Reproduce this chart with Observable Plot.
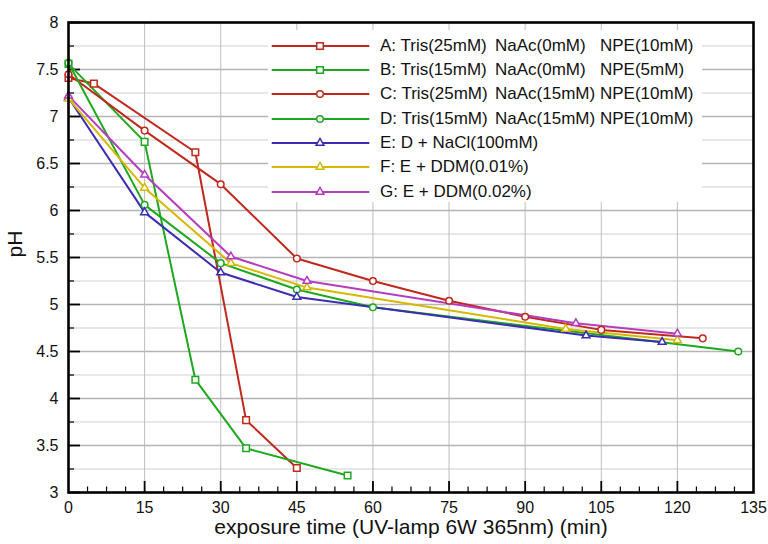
<!DOCTYPE html>
<html><head><meta charset="utf-8">
<script src="https://cdn.jsdelivr.net/npm/d3@7"></script>
<script src="https://cdn.jsdelivr.net/npm/@observablehq/plot@0.6"></script>
<style>
body{margin:0;background:#fff;font-family:"Liberation Sans",Arial,Helvetica,sans-serif}
#wrap{position:relative;width:768px;height:544px;overflow:hidden}
#legend{position:absolute;left:268px;top:30px;width:434px;height:172px;background:#fff}
.row{position:absolute;left:0;width:434px;height:24px;font-size:17px;line-height:24px;color:#111;white-space:nowrap}
.row svg{position:absolute;left:3px;top:6px}
.row span{position:absolute;top:0}
</style></head><body><div id="wrap"></div>
<script>
// ---- data ----
const seriesKeys = ["A","B","C","D","E","F","G"];
const seriesColors = ["#c0281c","#1ea81e","#c0281c","#1ea81e","#3a2db2","#d6b800","#b43cbe"];
const seriesSymbols = ["square","square","circle","circle","triangle","triangle","triangle"];
const labelCol1 = ["A: Tris(25mM)","B: Tris(15mM)","C: Tris(25mM)","D: Tris(15mM)","E: D + NaCl(100mM)","F: E + DDM(0.01%)","G: E + DDM(0.02%)"];
const labelCol2 = ["NaAc(0mM)","NaAc(0mM)","NaAc(15mM)","NaAc(15mM)","","",""];
const labelCol3 = ["NPE(10mM)","NPE(5mM)","NPE(10mM)","NPE(10mM)","","",""];

const timeA = [0,5,25,35,45];
const phA   = [7.41,7.35,6.62,3.77,3.26];
const timeB = [0,15,25,35,55];
const phB   = [7.56,6.73,4.20,3.47,3.18];
const timeC = [0,15,30,45,60,75,90,105,125];
const phC   = [7.45,6.85,6.28,5.49,5.25,5.04,4.87,4.73,4.64];
const timeD = [0,15,30,45,60,132];
const phD   = [7.57,6.06,5.44,5.16,4.97,4.50];
const timeE = [0,15,30,45,102,117];
const phE   = [7.20,5.98,5.34,5.08,4.67,4.60];
const timeF = [0,15,32,47,98,120];
const phF   = [7.19,6.24,5.44,5.18,4.74,4.62];
const timeG = [0,15,32,47,100,120];
const phG   = [7.22,6.38,5.51,5.25,4.80,4.69];

const xTickLabels = [0,15,30,45,60,75,90,105,120,135];
const xMinorTicks = d3.range(0, 135.01, 3.75);
const yTickLabels = [3,3.5,4,4.5,5,5.5,6,6.5,7,7.5,8];
const yMinorTicks = d3.range(3, 8.01, 0.25);
const xLabel = "exposure time (UV-lamp 6W 365nm) (min)";
const yLabel = "pH";

// ---- build ----
const times = [timeA,timeB,timeC,timeD,timeE,timeF,timeG];
const phs = [phA,phB,phC,phD,phE,phF,phG];
const W = 768, H = 544, mL = 68, mR = 15, mT = 22, mB = 52;
const innerW = W - mL - mR, innerH = H - mT - mB;

const symR = {square: 3.7, circle: 3.3, triangle: 2.9};
const seriesMarks = [];
seriesKeys.forEach((k, i) => {
  const rows = times[i].map((t, j) => ({t, ph: phs[i][j]}));
  seriesMarks.push(Plot.line(rows, {x: "t", y: "ph", stroke: seriesColors[i], strokeWidth: 2}));
});
seriesKeys.forEach((k, i) => {
  const rows = times[i].map((t, j) => ({t, ph: phs[i][j]}));
  seriesMarks.push(Plot.dot(rows, {x: "t", y: "ph", symbol: () => seriesSymbols[i], stroke: seriesColors[i], fill: "white", strokeWidth: 1.5, r: symR[seriesSymbols[i]]}));
});

const majorY = yTickLabels;
const minorY = yMinorTicks.filter(v => Math.abs(v*2 - Math.round(v*2)) > 1e-6);
const gridX = xTickLabels.filter(v => v > 0 && v < 135);
const majorXTicks = xMinorTicks.filter(v => Math.abs(v/15 - Math.round(v/15)) < 1e-6 && v > 0 && v < 135);
const minorXTicks = xMinorTicks.filter(v => Math.abs(v/15 - Math.round(v/15)) > 1e-6);

const chart = Plot.plot({
  width: W, height: H,
  marginLeft: mL, marginRight: mR, marginTop: mT, marginBottom: mB,
  style: {fontFamily: '"Liberation Sans", Arial, Helvetica, sans-serif', background: "white", overflow: "visible"},
  x: {domain: [0,135]},
  y: {domain: [3,8]},
  symbol: {type: "identity"},
  marks: [
    Plot.ruleY(minorY, {stroke: "#cfcfcf", strokeWidth: 1}),
    Plot.ruleY(majorY.filter(v => v > 3 && v < 8), {stroke: "#b4b4b4", strokeWidth: 1.6}),
    Plot.ruleX(gridX, {stroke: "#bdbdbd", strokeWidth: 1}),
    Plot.tickX(majorXTicks, {x: d => d, stroke: "black", strokeWidth: 1.8, insetTop: innerH - 11}),
    Plot.tickX(minorXTicks, {x: d => d, stroke: "black", strokeWidth: 1.2, insetTop: innerH - 5.5}),
    Plot.tickY(majorY, {y: d => d, stroke: "black", strokeWidth: 1.8, insetRight: innerW - 12}),
    Plot.tickY(minorY, {y: d => d, stroke: "black", strokeWidth: 1.2, insetRight: innerW - 6}),
    Plot.axisX({ticks: xTickLabels, tickSize: 0, tickPadding: 9, fontSize: 16, label: null, tickFormat: d => String(d), fill: "#111"}),
    Plot.axisY({ticks: yTickLabels, tickSize: 0, tickPadding: 10, fontSize: 16, label: null, tickFormat: d => String(d), fill: "#111"}),
    Plot.text([xLabel], {frameAnchor: "bottom", dy: 41, fontSize: 21, fill: "#111"}),
    Plot.text([yLabel], {frameAnchor: "left", dx: -53, rotate: -90, fontSize: 21, fill: "#111"}),
    ...seriesMarks,
    Plot.frame({stroke: "black", strokeWidth: 2.6})
  ]
});
const wrap = document.getElementById("wrap");
wrap.appendChild(chart);

// legend
const legend = document.createElement("div");
legend.id = "legend";
wrap.appendChild(legend);
seriesKeys.forEach((k, i) => {
  const row = document.createElement("div");
  row.className = "row";
  row.style.top = (3.7 + i*24.3) + "px";
  const svg = d3.create("svg").attr("width", 100).attr("height", 12);
  svg.append("line").attr("x1", 0.7).attr("x2", 98.3).attr("y1", 6).attr("y2", 6).attr("stroke", seriesColors[i]).attr("stroke-width", 2);
  const sym = {square: d3.symbolSquare, circle: d3.symbolCircle, triangle: d3.symbolTriangle}[seriesSymbols[i]];
  const r = symR[seriesSymbols[i]];
  svg.append("path").attr("d", d3.symbol(sym, r*r*Math.PI)()).attr("transform", "translate(49,6)")
    .attr("fill", "white").attr("stroke", seriesColors[i]).attr("stroke-width", 1.5);
  row.appendChild(svg.node());
  [[labelCol1[i],112],[labelCol2[i],227],[labelCol3[i],332]].forEach(([txt, x]) => {
    if (!txt) return;
    const s = document.createElement("span");
    s.textContent = txt; s.style.left = x + "px";
    row.appendChild(s);
  });
  legend.appendChild(row);
});
</script></body></html>
